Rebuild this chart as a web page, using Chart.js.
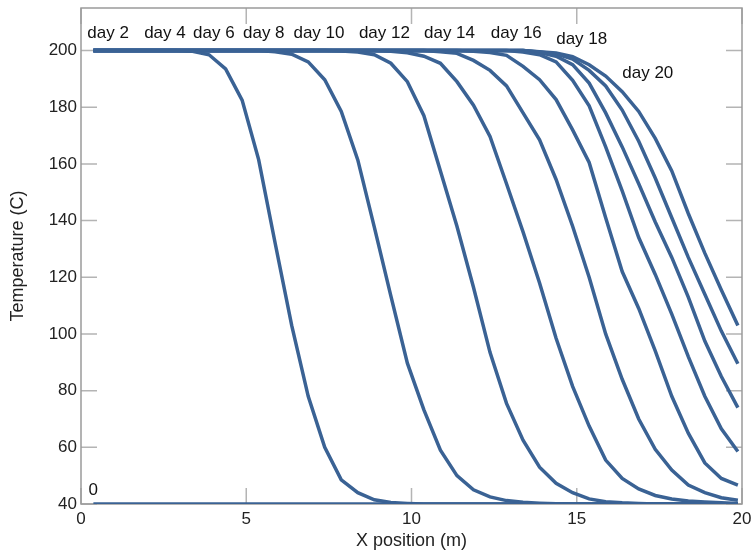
<!DOCTYPE html>
<html>
<head>
<meta charset="utf-8">
<script src="https://cdn.jsdelivr.net/npm/chart.js@4.4.1/dist/chart.umd.min.js"></script>
<style>
  html, body { margin: 0; padding: 0; background: #fff; }
  #wrap { width: 751px; height: 552px; }
</style>
</head>
<body>
<div id="wrap"><canvas id="chart" width="751" height="552"></canvas></div>
<script>
// Узлы сетки по X (м)
const xPos = [0.375, 0.875, 1.375, 1.875, 2.375, 2.875, 3.375, 3.875, 4.375, 4.875,
              5.375, 5.875, 6.375, 6.875, 7.375, 7.875, 8.375, 8.875, 9.375, 9.875,
              10.375, 10.875, 11.375, 11.875, 12.375, 12.875, 13.375, 13.875, 14.375, 14.875,
              15.375, 15.875, 16.375, 16.875, 17.375, 17.875, 18.375, 18.875, 19.375, 19.875];

const xTicks = [0, 5, 10, 15, 20];
const yTicks = [40, 60, 80, 100, 120, 140, 160, 180, 200];

// Температура по дням
const day0  = [40,40,40,40,40,40,40,40,40,40, 40,40,40,40,40,40,40,40,40,40, 40,40,40,40,40,40,40,40,40,40, 40,40,40,40,40,40,40,40,40,40];
const day2  = [200,200,200,200,200,200,199.7,198.5,193.5,182.5, 161.5,132,103,78,60,48.5,44,41.5,40.5,40.2, 40,40,40,40,40,40,40,40,40,40, 40,40,40,40,40,40,40,40,40,40];
const day4  = [200,200,200,200,200,200,200,200,200,200, 200,199.6,198.7,196,189.7,178.5,161.4,137.7,113.4,89.7, 73.2,59,50,45,42.5,41.2,40.6,40.3,40.1,40, 40,40,40,40,40,40,40,40,40,40];
const day6  = [200,200,200,200,200,200,200,200,200,200, 200,200,200,200,200,199.8,199.5,198.5,195.5,189, 177,157.5,138,116.5,93.5,75.5,62.5,53,47.3,44, 41.8,40.8,40.4,40.2,40,40,40,40,40,40];
const day8  = [200,200,200,200,200,200,200,200,200,200, 200,200,200,200,200,200,200,200,199.7,199.2, 198,195.5,189,180.7,169.7,153,136,118,98.5,81.5, 67.5,55.5,49,45.3,43,41.8,41.1,40.7,40.4,40.2];
const day10 = [200,200,200,200,200,200,200,200,200,200, 200,200,200,200,200,200,200,200,200,200, 200,199.6,199,196.5,193,187.5,178,168.5,154.5,138, 120,100,84,70,59.3,52,46.7,44,42.2,41.3];
const day12 = [200,200,200,200,200,200,200,200,200,200, 200,200,200,200,200,200,200,200,200,200, 200,200,200,199.7,199.3,198.3,194.4,189.7,182.7,172, 160.5,141,122,109,94,78,65,54.5,49,46.7];
const day14 = [200,200,200,200,200,200,200,200,200,200, 200,200,200,200,200,200,200,200,200,200, 200,200,200,200,200,200,199.5,198.5,196,189.5, 180.5,166,150.5,134,121,107,92,78,66.5,58.5];
const day16 = [200,200,200,200,200,200,200,200,200,200, 200,200,200,200,200,200,200,200,200,200, 200,200,200,200,200,200,200,199.3,198,195, 188.5,178,166,153,139.5,127,113,97.5,85,74];
const day18 = [200,200,200,200,200,200,200,200,200,200, 200,200,200,200,200,200,200,200,200,200, 200,200,200,200,200,200,200,199.5,198.8,197, 193,187.5,179,168,155,141,127,114,101,89.5];
const day20 = [200,200,200,200,200,200,200,200,200,200, 200,200,200,200,200,200,200,200,200,200, 200,200,200,200,200,200,200,199.6,199.1,197.8, 195,191,185.5,178.5,169,157.5,142.5,128.5,115.5,103];

const seriesList = [day0, day2, day4, day6, day8, day10, day12, day14, day16, day18, day20];

// Подписи кривых (координаты в единицах осей)
const labelText = ['0', 'day 2', 'day 4', 'day 6', 'day 8', 'day 10', 'day 12', 'day 14', 'day 16', 'day 18', 'day 20'];
const labelX = [0.37, 0.82, 2.54, 4.02, 5.53, 7.2, 9.18, 11.15, 13.17, 15.15, 17.15];
const labelY = [43.2, 204.5, 204.5, 204.5, 204.5, 204.5, 204.5, 204.5, 204.5, 202.4, 190.4];

const FONT = '"Liberation Sans", Arial, sans-serif';
const LINE_COLOR = '#3a6294';

// Рамка и засечки внутрь области графика + подписи дней
const frameTicks = {
    id: 'frameTicks',
    beforeDatasetsDraw(chart) {
        const { ctx, chartArea: a, scales: { x, y } } = chart;
        ctx.save();
        ctx.strokeStyle = '#b4b4b4';
        ctx.lineWidth = 1.5;
        ctx.beginPath();
        xTicks.forEach(v => {
            const px = x.getPixelForValue(v);
            ctx.moveTo(px, a.bottom); ctx.lineTo(px, a.bottom - 16);
            ctx.moveTo(px, a.top); ctx.lineTo(px, a.top + 16);
        });
        yTicks.forEach(v => {
            const py = y.getPixelForValue(v);
            ctx.moveTo(a.left, py); ctx.lineTo(a.left + 16, py);
            ctx.moveTo(a.right, py); ctx.lineTo(a.right - 16, py);
        });
        ctx.stroke();
        ctx.strokeStyle = '#9a9a9a';
        ctx.strokeRect(a.left, a.top, a.right - a.left, a.bottom - a.top);
        ctx.restore();
    },
    afterDatasetsDraw(chart) {
        const { ctx, scales: { x, y } } = chart;
        ctx.save();
        ctx.fillStyle = '#111';
        ctx.font = '17px ' + FONT;
        ctx.textAlign = 'center';
        ctx.textBaseline = 'alphabetic';
        labelText.forEach((t, i) => {
            ctx.fillText(t, x.getPixelForValue(labelX[i]), y.getPixelForValue(labelY[i]));
        });
        ctx.restore();
    }
};

new Chart(document.getElementById('chart'), {
    type: 'line',
    data: {
        datasets: seriesList.map(s => ({
            data: xPos.map((xv, i) => ({ x: xv, y: s[i] })),
            borderColor: LINE_COLOR,
            borderWidth: 3.5,
            pointRadius: 0,
            tension: 0,
            fill: false
        }))
    },
    options: {
        responsive: false,
        animation: false,
        devicePixelRatio: 1,
        layout: { padding: { top: 8, right: 9, left: 0, bottom: 0 } },
        plugins: {
            legend: { display: false },
            tooltip: { enabled: false }
        },
        scales: {
            x: {
                type: 'linear',
                min: 0,
                max: 20,
                afterBuildTicks: s => { s.ticks = xTicks.map(v => ({ value: v })); },
                afterFit: s => { s.height = 48; s.paddingLeft = 0; s.paddingRight = 0; },
                grid: { display: false, drawTicks: false, tickLength: 0 },
                border: { display: false },
                ticks: { color: '#222', font: { family: FONT, size: 17 }, padding: 5, maxRotation: 0, autoSkip: false },
                title: { display: true, text: 'X position (m)', color: '#222', font: { family: FONT, size: 18 }, padding: { top: 0, bottom: 0 } }
            },
            y: {
                type: 'linear',
                min: 40,
                max: 215,
                afterBuildTicks: s => { s.ticks = yTicks.map(v => ({ value: v })); },
                afterFit: s => { s.width = 81; s.paddingTop = 0; s.paddingBottom = 0; },
                grid: { display: false, drawTicks: false, tickLength: 0 },
                border: { display: false },
                ticks: { color: '#222', font: { family: FONT, size: 17 }, padding: 4, autoSkip: false },
                title: { display: true, text: 'Temperature (C)', color: '#222', font: { family: FONT, size: 18 }, padding: { top: 7, bottom: 0 } }
            }
        }
    },
    plugins: [frameTicks]
});
</script>
</body>
</html>
